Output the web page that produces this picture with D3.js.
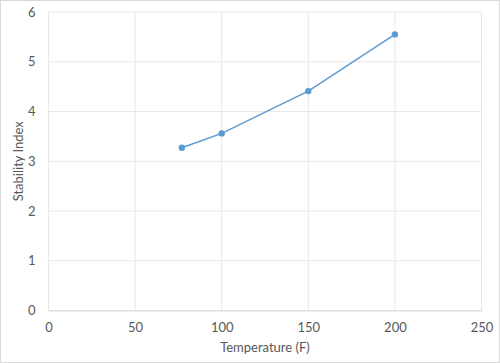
<!DOCTYPE html>
<html lang="en">
<head>
<meta charset="utf-8">
<title>Stability Index vs Temperature</title>
<script src="https://d3js.org/d3.v7.min.js"></script>
<style>
  body { margin: 0; background: #fff; }
  text { font-family: Lato, "Open Sans", sans-serif; fill: #595959; }
</style>
</head>
<body>
<script>
// data
const temps = [77, 100, 150, 200];
const stability = [3.27, 3.56, 4.41, 5.55];
const xTicks = [0, 50, 100, 150, 200, 250];
const yTicks = [0, 1, 2, 3, 4, 5, 6];

const width = 500, height = 363;
const plotLeft = 48.5, plotRight = 481.5, plotTop = 12, plotBottom = 310.5;

const svg = d3.select("body").append("svg")
  .attr("width", width)
  .attr("height", height);

// outer chart border
svg.append("rect")
  .attr("x", 0.5).attr("y", 0.5)
  .attr("width", width - 1).attr("height", height - 1)
  .attr("fill", "#fff")
  .attr("stroke", "#d9d9d9");

const x = d3.scaleLinear().domain([0, 250]).range([plotLeft, plotRight]);
const y = d3.scaleLinear().domain([0, 6]).range([plotBottom, plotTop]);

// gridlines
svg.append("g")
  .selectAll("line")
  .data(xTicks)
  .join("line")
  .attr("x1", d => x(d)).attr("x2", d => x(d))
  .attr("y1", plotTop).attr("y2", plotBottom)
  .attr("stroke", "#e8e8e8");

svg.append("g")
  .selectAll("line")
  .data(yTicks)
  .join("line")
  .attr("x1", plotLeft).attr("x2", plotRight)
  .attr("y1", d => y(d)).attr("y2", d => y(d))
  .attr("stroke", "#e8e8e8");

// axes
const xAxis = svg.append("g")
  .attr("transform", "translate(0," + plotBottom + ")")
  .call(d3.axisBottom(x).tickValues(xTicks).tickSize(0).tickPadding(12));
xAxis.select(".domain").attr("stroke", "#d9d9d9");
xAxis.selectAll("text").style("font-size", "13px");

const yAxis = svg.append("g")
  .attr("transform", "translate(" + plotLeft + ",0)")
  .call(d3.axisLeft(y).tickValues(yTicks).tickFormat(d3.format("d")).tickSize(0).tickPadding(13));
yAxis.select(".domain").remove();
yAxis.selectAll("text").style("font-size", "13px");

// axis titles
svg.append("text")
  .attr("x", (plotLeft + plotRight) / 2)
  .attr("y", 352)
  .attr("text-anchor", "middle")
  .style("font-size", "13px")
  .text("Temperature (F)");

svg.append("text")
  .attr("transform", "translate(23," + ((plotTop + plotBottom) / 2) + ") rotate(-90)")
  .attr("text-anchor", "middle")
  .style("font-size", "13px")
  .text("Stability Index");

// series
const pts = temps.map((t, i) => [t, stability[i]]);

const line = d3.line()
  .x(d => x(d[0]))
  .y(d => y(d[1]));

svg.append("path")
  .datum(pts)
  .attr("d", line)
  .attr("fill", "none")
  .attr("stroke", "#5b9bd5")
  .attr("stroke-width", 1.5);

svg.append("g")
  .selectAll("circle")
  .data(pts)
  .join("circle")
  .attr("cx", d => x(d[0]))
  .attr("cy", d => y(d[1]))
  .attr("r", 3.2)
  .attr("fill", "#5b9bd5");
</script>
</body>
</html>
